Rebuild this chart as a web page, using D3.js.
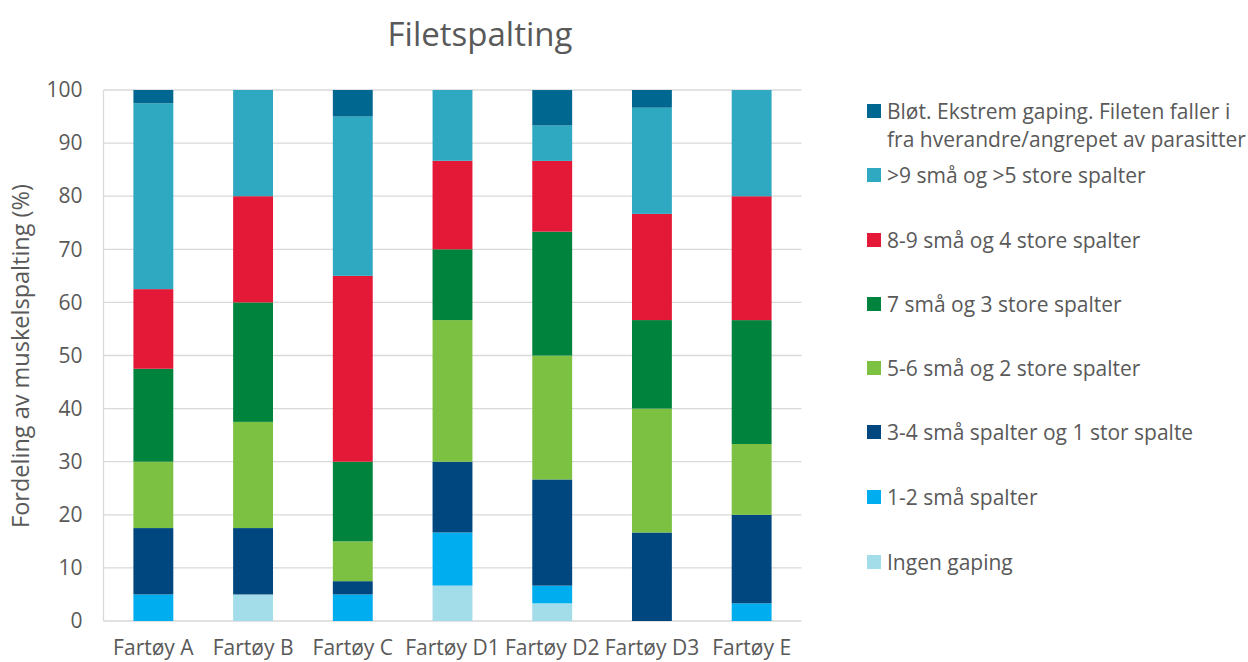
<!DOCTYPE html>
<html><head><meta charset="utf-8">
<script src="https://cdn.jsdelivr.net/npm/d3@7"></script>
<style>body{margin:0;background:#fff;}svg{display:block;font-family:"Open Sans",sans-serif;}</style>
</head><body><svg id="c" width="1248" height="662"></svg>
<script>
const categories = ["Fartøy A","Fartøy B","Fartøy C","Fartøy D1","Fartøy D2","Fartøy D3","Fartøy E"];
const seriesNames = ["Ingen gaping","1-2 små spalter","3-4 små spalter og 1 stor spalte","5-6 små og 2 store spalter","7 små og 3 store spalter","8-9 små og 4 store spalter",">9 små og >5 store spalter","Bløt. Ekstrem gaping. Fileten faller i fra hverandre/angrepet av parasitter"];
const seriesColors = ["#a3dde9","#00aeef","#00467f","#7cc142","#00843d","#e31937","#2ea9c1","#006890"];
const ingen  = [0, 5, 0, 6.67, 3.33, 0, 0];
const sma12  = [5, 0, 5, 10, 3.33, 0, 3.33];
const sma34  = [12.5, 12.5, 2.5, 13.33, 20, 16.67, 16.67];
const sma56  = [12.5, 20, 7.5, 26.67, 23.33, 23.33, 13.33];
const sma7   = [17.5, 22.5, 15, 13.33, 23.33, 16.67, 23.33];
const sma89  = [15, 20, 35, 16.67, 13.33, 20, 23.33];
const over9  = [35, 20, 30, 13.33, 6.67, 20, 20];
const blot   = [2.5, 0, 5, 0, 6.67, 3.33, 0];
const yTicks = [0,10,20,30,40,50,60,70,80,90,100];
const seriesValues = [ingen, sma12, sma34, sma56, sma7, sma89, over9, blot];

const svg = d3.select("#c");
const x = d3.scaleBand().domain(categories).range([103.5, 801.5]).paddingInner(0.6).paddingOuter(0.3);
const y = d3.scaleLinear().domain([0,100]).range([621, 90]);
const textColor = "#595959";
const fs = 21;

// gridlines
svg.append("g").selectAll("line").data(yTicks.filter(d=>d>0)).join("line")
  .attr("x1",103.5).attr("x2",801.5).attr("y1",d=>y(d)).attr("y2",d=>y(d))
  .attr("stroke","#d9d9d9").attr("stroke-width",1.3);
svg.append("line").attr("x1",103.5).attr("x2",103.5).attr("y1",y(100)).attr("y2",y(0)).attr("stroke","#d9d9d9").attr("stroke-width",1.3);
svg.append("line").attr("x1",103.5).attr("x2",801.5).attr("y1",y(0)).attr("y2",y(0)).attr("stroke","#d9d9d9").attr("stroke-width",1.3);

// stacks
const table = categories.map((c,i)=>{const o={cat:c}; seriesNames.forEach((s,j)=>o[s]=seriesValues[j][i]); return o;});
const stacked = d3.stack().keys(seriesNames)(table);
svg.append("g").selectAll("g").data(stacked).join("g")
  .attr("fill",(d,i)=>seriesColors[i])
  .selectAll("rect").data(d=>d).join("rect")
  .attr("x",d=>x(d.data.cat)).attr("width",x.bandwidth())
  .attr("y",d=>y(d[1])).attr("height",d=>Math.max(0,y(d[0])-y(d[1])));

// y axis
const ya = svg.append("g").attr("transform","translate(103.5,0)")
  .call(d3.axisLeft(y).tickValues(yTicks).tickSize(0).tickPadding(21));
ya.select(".domain").remove();
ya.selectAll("text").attr("fill",textColor).style("font-size",fs+"px").style("font-family","'Open Sans',sans-serif");

// x axis
const xa = svg.append("g").attr("transform","translate(0,621)")
  .call(d3.axisBottom(x).tickSize(0).tickPadding(19));
xa.select(".domain").remove();
xa.selectAll("text").attr("fill",textColor).style("font-size",fs+"px").style("font-family","'Open Sans',sans-serif");

// title
svg.append("text").attr("x",480).attr("y",46).attr("text-anchor","middle")
  .style("font-size","33px").attr("fill",textColor).text("Filetspalting");
// y title
svg.append("text").attr("transform","translate(29,356) rotate(-90)").attr("text-anchor","middle")
  .style("font-size","23.5px").attr("fill",textColor).text("Fordeling av muskelspalting (%)");

// legend (top to bottom: reversed)
const legendY = [111,175,240,304,368,432,497,562];
const order = d3.range(seriesNames.length).reverse();
order.forEach((si,k)=>{
  const g = svg.append("g");
  const yy = legendY[k];
  g.append("rect").attr("x",867).attr("y",yy-7).attr("width",14).attr("height",14).attr("fill",seriesColors[si]);
  const t = g.append("text").attr("x",887).attr("y",yy+7.5).style("font-size",fs+"px").attr("fill",textColor);
  if(si===7){
    t.append("tspan").attr("x",887).text("Bløt. Ekstrem gaping. Fileten faller i");
    t.append("tspan").attr("x",887).attr("dy",28).text("fra hverandre/angrepet av parasitter");
  } else t.text(seriesNames[si]);
});
</script></body></html>
